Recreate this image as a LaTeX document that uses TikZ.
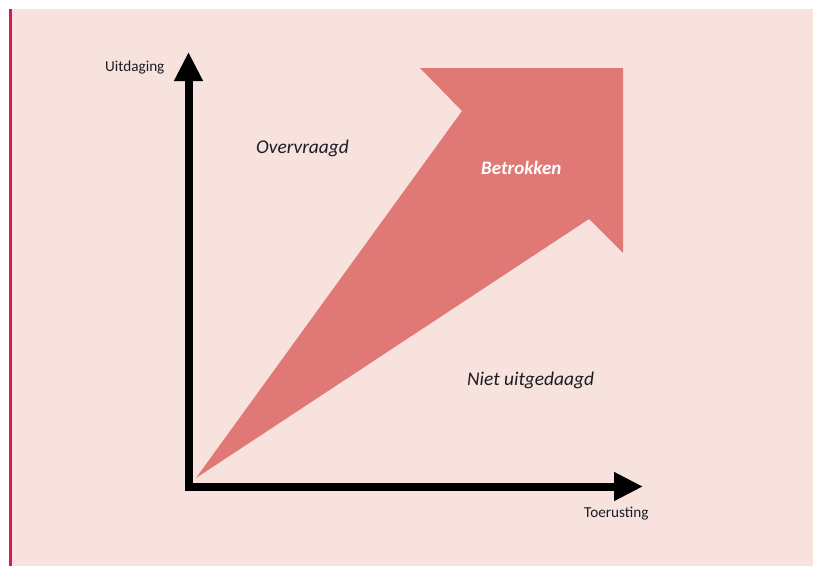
\documentclass[tikz,border=0pt]{standalone}
\usepackage{fontspec}
\setmainfont{Carlito}
\usetikzlibrary{arrows.meta}
\definecolor{bgpink}{HTML}{F8E2DE}
\definecolor{arrowred}{HTML}{E07975}
\definecolor{edgered}{HTML}{D41F4D}
\definecolor{ink}{HTML}{1C1C24}
\tikzset{
  axislabel/.style={inner sep=0pt, anchor=base west, text=ink, font=\fontsize{15.2}{17}\selectfont},
  zonelabel/.style={inner sep=0pt, anchor=base west, text=ink, font=\fontsize{19.4}{21}\selectfont\itshape},
  axisline/.style={line width=8pt, line join=miter, draw=black,
    {Triangle[length=29pt 0,width=27pt 0]}-{Triangle[length=29pt 0,width=27pt 0]}}
}
\begin{document}
\begin{tikzpicture}[x=1pt,y=-1pt]
\useasboundingbox (0,0) rectangle (813,566);
\fill[white] (0,0) rectangle (813,566);
\fill[bgpink] (12,9) rectangle (813,566);
\fill[edgered] (9,9) rectangle (12,566);
% big arrow
\fill[arrowred] (196,478) -- (462,111) -- (420,68) -- (623,68) -- (623,253) -- (589,219) -- cycle;
% axes
\coordinate (ytip) at (188.5,52);
\coordinate (origin) at (188.5,486.5);
\coordinate (xtip) at (643,486.5);
\draw[axisline] (ytip) -- (origin) -- (xtip);
% labels
\node[axislabel] (uit) at (105,71) {Uitdaging};
\node[axislabel] (toe) at (584,517) {Toerusting};
\node[zonelabel] (over) at (256,153) {Overvraagd};
\node[zonelabel] (niet) at (467,385) {Niet uitgedaagd};
\node[inner sep=0pt, anchor=base west, text=white, font=\fontsize{19}{21}\selectfont\bfseries\itshape] (betr) at (481,174) {Betrokken};
\end{tikzpicture}
\end{document}
